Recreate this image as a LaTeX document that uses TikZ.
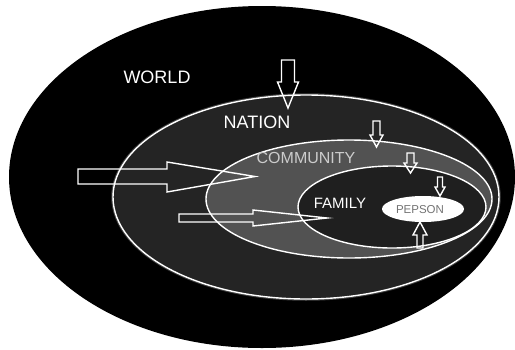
\documentclass[tikz,border=0pt]{standalone}
\usepackage{fontspec}
\setmainfont{Liberation Sans}
\begin{document}
\begin{tikzpicture}[x=1pt,y=-1pt,
  ring/.style={draw=white,line width=1.4pt},
  blockarrow/.style={draw=white,line width=1.4pt,line join=miter},
  lbl/.style={inner sep=0pt,text=white,font=\fontsize{18}{18}\selectfont}]
\useasboundingbox[fill=white] (0,0) rectangle (515,349);
% world
\fill[black] (262,177) ellipse [x radius=253, y radius=171];
% nation (with faint grey halo)
\draw[black!75,line width=3.5pt] (306,197) ellipse [x radius=193, y radius=102];
\fill[black!86, ring] (306,197) ellipse [x radius=193, y radius=102];
% community
\fill[black!68, ring] (349,199) ellipse [x radius=143, y radius=59];
% family
\fill[black!88, ring] (392,207) ellipse [x radius=94, y radius=41];
% person
\fill[white] (423,209) ellipse [x radius=41, y radius=13];
% labels
\node[lbl] (world) at (157,77) {WORLD};
\node[lbl] (nation) at (257,122) {NATION};
\node[lbl,text=black!20,font=\fontsize{16}{16}\selectfont] (community) at (306,158) {COMMUNITY};
\node[lbl,font=\fontsize{15}{15}\selectfont] (family) at (340,203) {FAMILY};
\node[lbl,text=black!55,font=\fontsize{11.5}{11.5}\selectfont] (person) at (420,210) {PEPSON};
% big right arrow
\draw[blockarrow] (78,169) -- (167,169) -- (167,162) -- (255,176.5) -- (167,192) -- (167,184) -- (78,184) -- cycle;
% lower right arrow
\draw[blockarrow] (179,214) -- (253,214) -- (253,210) -- (327,218) -- (253,226) -- (253,222) -- (179,222) -- cycle;
% down arrow into nation
\draw[blockarrow] (281.5,60) -- (294.5,60) -- (294.5,82) -- (298.5,82) -- (288,108) -- (277.5,82) -- (281.5,82) -- cycle;
% down arrow into community
\draw[blockarrow] (373,121) -- (380,121) -- (380,135) -- (383,135) -- (376.5,147) -- (370,135) -- (373,135) -- cycle;
% down arrow into family
\draw[blockarrow] (407,153) -- (414,153) -- (414,163) -- (417,163) -- (410.5,173) -- (404,163) -- (407,163) -- cycle;
% down arrow into person
\draw[blockarrow] (437.5,177) -- (442.5,177) -- (442.5,187) -- (445,187) -- (440,196) -- (435,187) -- (437.5,187) -- cycle;
% up arrow into person
\draw[blockarrow] (417,248) -- (423,248) -- (423,235) -- (427,235) -- (420,222) -- (413,235) -- (417,235) -- cycle;
\end{tikzpicture}
\end{document}
